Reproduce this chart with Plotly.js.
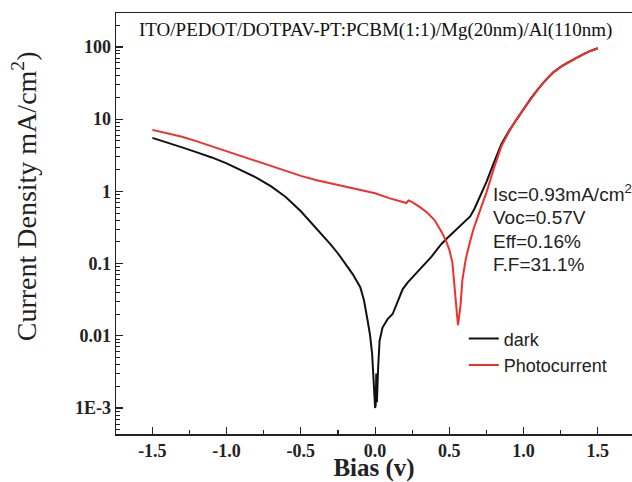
<!DOCTYPE html>
<html>
<head>
<meta charset="utf-8">
<script src="https://cdn.plot.ly/plotly-3.0.1.min.js"></script>
<style>html,body{margin:0;padding:0;background:#fff;}</style>
</head>
<body>
<div id="chart" style="width:632px;height:482px;"></div>
<script>
// Dark J-V curve (bias in V, current density in mA/cm^2)
const biasDark = [-1.5,-1.4,-1.3,-1.2,-1.1,-1.0,-0.9,-0.8,-0.7,-0.6,-0.5,-0.4,-0.3,-0.25,-0.2,-0.15,-0.1,-0.075,-0.05,-0.035,-0.02,-0.01,-0.004,0.0,0.004,0.008,0.012,0.016,0.02,0.03,0.05,0.084,0.118,0.15,0.185,0.22,0.27,0.326,0.38,0.42,0.45,0.49,0.53,0.575,0.61,0.64,0.67,0.7,0.75,0.8,0.85,0.9,0.95,1.0,1.05,1.1,1.15,1.2,1.25,1.3,1.35,1.4,1.45,1.5];
const jDark = [5.5,4.78,4.07,3.47,2.95,2.44,1.95,1.55,1.17,0.83,0.53,0.317,0.185,0.138,0.10,0.071,0.047,0.031,0.016,0.0105,0.0056,0.0022,0.0013,0.001,0.0011,0.003,0.0012,0.0028,0.0035,0.0085,0.013,0.017,0.02,0.029,0.044,0.055,0.071,0.097,0.125,0.16,0.19,0.23,0.275,0.33,0.39,0.45,0.58,0.80,1.35,2.5,4.5,6.8,9.8,13.8,19.5,26.5,35,44.5,53,61,70,79,88,96];

// Photocurrent J-V curve
const biasPhoto = [-1.5,-1.4,-1.3,-1.2,-1.1,-1.0,-0.9,-0.8,-0.7,-0.6,-0.5,-0.4,-0.3,-0.2,-0.1,0.0,0.1,0.15,0.2,0.21,0.225,0.25,0.3,0.35,0.4,0.45,0.48,0.5,0.52,0.535,0.548,0.555,0.558,0.565,0.575,0.588,0.61,0.63,0.66,0.7,0.75,0.8,0.85,0.9,0.95,1.0,1.05,1.1,1.15,1.2,1.25,1.3,1.35,1.4,1.45,1.5];
const jPhoto = [7.1,6.36,5.69,4.93,4.2,3.58,3.05,2.6,2.22,1.89,1.64,1.44,1.29,1.17,1.05,0.94,0.80,0.75,0.70,0.69,0.75,0.71,0.61,0.51,0.40,0.27,0.20,0.155,0.105,0.05,0.026,0.0145,0.014,0.018,0.026,0.06,0.114,0.17,0.29,0.50,0.97,2.1,4.2,6.6,9.8,13.8,19.5,26.5,35,44.5,53,61,70,79,88,96];

const seriesNames = ['dark', 'Photocurrent'];
const yTickVals = [0.001, 0.01, 0.1, 1, 10, 100];
const yTickText = ['1E-3', '0.01', '0.1', '1', '10', '100'];
const xTickVals = [-1.5, -1.0, -0.5, 0.0, 0.5, 1.0, 1.5];
const xTickText = ['-1.5', '-1.0', '-0.5', '0.0', '0.5', '1.0', '1.5'];
const chartTitle = 'ITO/PEDOT/DOTPAV-PT:PCBM(1:1)/Mg(20nm)/Al(110nm)';
const cellParams = ['Isc=0.93mA/cm<sup>2</sup>', 'Voc=0.57V', 'Eff=0.16%', 'F.F=31.1%'];

const serif = '"Liberation Serif", "Times New Roman", serif';
const sans = '"Liberation Sans", Arial, sans-serif';

const traces = [
  {x: biasDark, y: jDark, name: seriesNames[0], type: 'scatter', mode: 'lines',
   line: {color: '#111111', width: 2}},
  {x: biasPhoto, y: jPhoto, name: seriesNames[1], type: 'scatter', mode: 'lines',
   line: {color: '#f0302a', width: 2}}
];

const paramY = [0.572, 0.515, 0.458, 0.402];
const annotations = cellParams.map((t, i) => ({
  text: t, xref: 'paper', yref: 'paper', x: 0.727, y: paramY[i],
  xanchor: 'left', yanchor: 'middle', showarrow: false,
  font: {family: sans, size: 19, color: '#222'}
}));
annotations.push({
  text: chartTitle, xref: 'paper', yref: 'paper', x: 0.502, y: 0.96,
  xanchor: 'center', yanchor: 'middle', showarrow: false,
  font: {family: serif, size: 19, color: '#111'}
});
annotations.push({
  text: 'Current Density mA/cm<sup>2</sup>)', xref: 'paper', yref: 'paper',
  x: -0.178, y: 0.565, xanchor: 'center', yanchor: 'middle', textangle: -90,
  showarrow: false, font: {family: serif, size: 28, color: '#222'}
});

const layout = {
  width: 632, height: 482,
  margin: {l: 116, r: 0, t: 13, b: 48},
  paper_bgcolor: '#fff', plot_bgcolor: '#fff',
  showlegend: true,
  legend: {x: 0.674, y: 0.27, xanchor: 'left', yanchor: 'top',
           bgcolor: 'rgba(0,0,0,0)', font: {family: sans, size: 18, color: '#222'},
           tracegroupgap: 0},
  xaxis: {
    range: [-1.745, 1.73], showgrid: false, zeroline: false,
    showline: true, linecolor: '#222', linewidth: 1.5, mirror: true,
    ticks: 'inside', ticklen: 7, tickwidth: 1.2, tickcolor: '#222',
    tickmode: 'array', tickvals: xTickVals, ticktext: xTickText,
    minor: {dtick: 0.25, ticks: 'inside', ticklen: 4, tickcolor: '#222', tickwidth: 1.2},
    tickfont: {family: serif, size: 18, color: '#222', weight: 'bold'},
    title: {text: '<b>Bias (v)</b>', font: {family: serif, size: 25, color: '#222'}, standoff: 6}
  },
  yaxis: {
    type: 'log', range: [-3.36, 2.47], showgrid: false, zeroline: false,
    showline: true, linecolor: '#222', linewidth: 1.5, mirror: false,
    ticks: 'inside', ticklen: 7, tickwidth: 1.2, tickcolor: '#222',
    tickmode: 'array', tickvals: yTickVals, ticktext: yTickText,
    minor: {ticks: 'inside', ticklen: 4, tickcolor: '#222', tickwidth: 1, dtick: 'D1'},
    tickfont: {family: serif, size: 18, color: '#222', weight: 'bold'}
  },
  annotations: annotations
};

Plotly.newPlot('chart', traces, layout, {displayModeBar: false, staticPlot: true});
</script>
</body>
</html>
